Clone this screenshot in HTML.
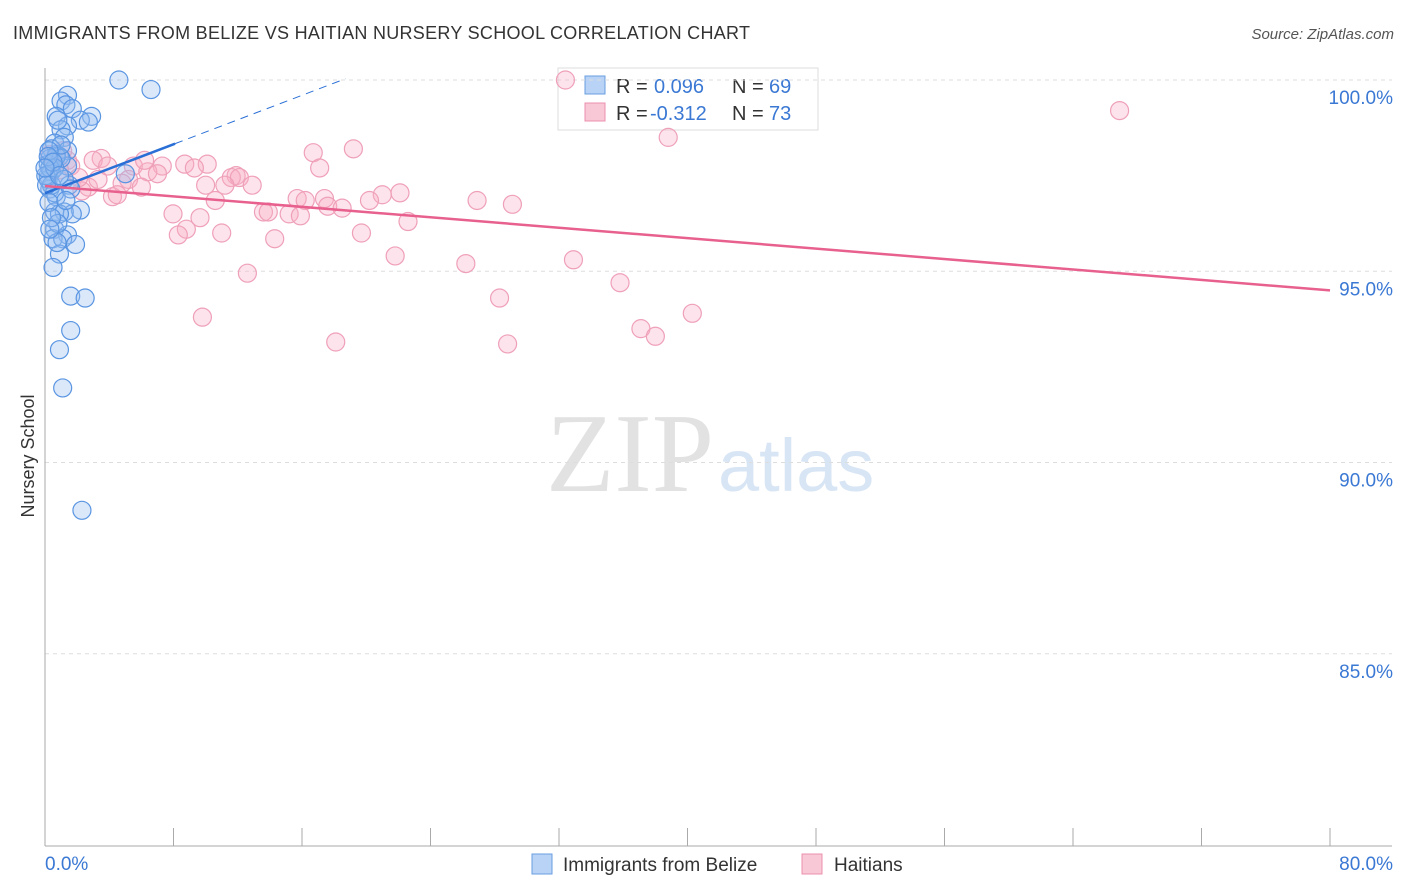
<!DOCTYPE html>
<html><head><meta charset="utf-8"><style>
body{margin:0;background:#fff;font-family:"Liberation Sans",sans-serif;}
svg{display:block}
</style></head><body>
<svg id="c" width="1406" height="892" xmlns="http://www.w3.org/2000/svg">
<text x="13" y="39" font-size="18" fill="#333" textLength="737">IMMIGRANTS FROM BELIZE VS HAITIAN NURSERY SCHOOL CORRELATION CHART</text>
<text x="1394" y="39" font-size="15" fill="#555" text-anchor="end" font-style="italic">Source: ZipAtlas.com</text>
<text x="714" y="491" font-size="112" fill="#e2e2e2" text-anchor="end" font-family="Liberation Serif">ZIP</text>
<text x="718" y="491" font-size="74" fill="#d8e5f5">atlas</text>
<text transform="translate(34,456) rotate(-90)" font-size="18" fill="#333" text-anchor="middle">Nursery School</text>
<g>
<rect x="558" y="68" width="260" height="62" fill="#fff" stroke="#ddd"/>
<rect x="585" y="76" width="20" height="18" fill="#b8d3f5" stroke="#6a9ee0"/>
<rect x="585" y="103" width="20" height="18" fill="#f9c8d7" stroke="#ec8fac"/>
<text x="616" y="93" font-size="20" fill="#333">R =</text>
<text x="654" y="93" font-size="20" fill="#3a78d4">0.096</text>
<text x="732" y="93" font-size="20" fill="#333">N =</text>
<text x="769" y="93" font-size="20" fill="#3a78d4">69</text>
<text x="616" y="120" font-size="20" fill="#333">R =</text>
<text x="650" y="120" font-size="20" fill="#3a78d4">-0.312</text>
<text x="732" y="120" font-size="20" fill="#333">N =</text>
<text x="769" y="120" font-size="20" fill="#3a78d4">73</text>
</g>
<g id="grid"></g><g id="pts"></g><g id="lines"></g>
<g>
<rect x="532" y="854" width="20" height="20" fill="#b8d3f5" stroke="#6a9ee0"/>
<text x="563" y="871" font-size="19" fill="#333">Immigrants from Belize</text>
<rect x="802" y="854" width="20" height="20" fill="#f9c8d7" stroke="#ec8fac"/>
<text x="834" y="871" font-size="19" fill="#333">Haitians</text>
</g>
</svg>
<script>
const NS="http://www.w3.org/2000/svg";
const yTicks=[100,95,90,85];
const yTickLabels=["100.0%","95.0%","90.0%","85.0%"];
const xTicks=[0,8,16,24,32,40,48,56,64,72,80];
const belizeX=[4.6,6.6,1.4,1.0,1.3,1.7,0.7,2.9,2.2,2.7,1.4,1.0,1.2,0.6,0.4,1.4,0.7,0.9,0.3,0.2,1.4,0.4,0.2,5.0,1.5,0.3,0.7,2.2,0.6,1.2,1.7,0.6,1.4,0.5,1.1,1.9,0.9,0.5,1.6,2.5,1.6,0.9,1.1,2.3,0.2,0.4,0.7,1.0,0.3,0.6,0.9,0.8,0.05,0.1,1.0,0.8,0.25,0.6,1.2,1.6,0.25,0.4,0.75,0.2,0.5,0.9,1.3,0.3,0.0];
const belizeY=[100.0,99.75,99.6,99.45,99.35,99.25,99.05,99.05,98.95,98.9,98.8,98.7,98.5,98.35,98.2,98.15,98.05,98.0,97.95,97.8,97.75,97.6,97.5,97.55,97.25,97.15,96.95,96.6,96.55,96.55,96.5,96.1,95.95,95.85,95.85,95.7,95.45,95.1,94.35,94.3,93.45,92.95,91.95,88.75,97.4,97.25,98.0,97.95,97.7,97.05,96.5,96.25,97.5,97.25,98.3,98.95,98.15,97.7,97.4,97.15,96.8,96.4,95.75,98.0,97.85,97.5,96.85,96.1,97.7];
const haitiX=[32.4,66.9,38.8,19.2,16.7,3.5,1.4,3.0,5.5,7.3,8.7,10.1,9.3,17.1,6.4,7.0,11.9,11.6,12.1,11.2,12.9,5.2,4.8,6.0,2.7,2.3,21.0,22.1,15.7,16.2,17.4,10.6,20.2,26.9,29.1,17.6,18.5,7.97,9.65,13.6,13.9,15.2,15.9,22.6,8.8,11.0,8.3,19.7,14.3,12.6,21.8,26.2,32.9,35.8,28.3,9.8,37.1,40.3,38.0,18.1,28.8,1.1,0.6,1.6,4.2,4.5,2.1,3.9,3.3,0.9,6.2,10.0,0.3];
const haitiY=[100.0,99.2,98.5,98.2,98.1,97.95,97.9,97.9,97.75,97.75,97.8,97.8,97.7,97.7,97.6,97.55,97.5,97.45,97.45,97.25,97.25,97.4,97.3,97.2,97.2,97.1,97.0,97.05,96.9,96.85,96.9,96.85,96.85,96.85,96.75,96.7,96.65,96.5,96.4,96.55,96.55,96.5,96.45,96.3,96.1,96.0,95.95,96.0,95.85,94.95,95.4,95.2,95.3,94.7,94.3,93.8,93.5,93.9,93.3,93.15,93.1,98.15,97.9,97.75,96.95,97.0,97.45,97.75,97.4,97.65,97.9,97.25,98.05];
const belizeFit=[97.04,0.16];
const haitiFit=[97.23,94.5];
const X=v=>45+v/80*1285;
const Y=v=>80+(100-v)*38.25;
function mk(t,a,p){const e=document.createElementNS(NS,t);for(const k in a)e.setAttribute(k,a[k]);p.appendChild(e);return e;}
const grid=document.getElementById('grid');
yTicks.forEach((v,i)=>{
  const l=mk('line',{x1:45,x2:1392,y1:Y(v),y2:Y(v),stroke:'#ddd','stroke-dasharray':'4,4'},grid);
  
  
  const t=mk('text',{x:1393,y:Y(v)+24,'font-size':19,fill:'#3a78d4','text-anchor':'end'},grid);
  t.textContent=yTickLabels[i];
  
  
});
const ax=mk('line',{x1:45,x2:45,y1:68,y2:846,stroke:'#aaa'},grid);


const bx=mk('line',{x1:45,x2:1392,y1:846,y2:846,stroke:'#aaa'},grid);


xTicks.forEach(v=>{
  const l=mk('line',{x1:X(v),x2:X(v),y1:828,y2:846,stroke:'#aaa'},grid);
  
  
});
const xl=mk('text',{x:45,y:870,'font-size':19,fill:'#3a78d4'},grid);xl.textContent='0.0%';


const xr=mk('text',{x:1393,y:870,'font-size':19,fill:'#3a78d4','text-anchor':'end'},grid);xr.textContent='80.0%';


const pts=document.getElementById('pts');
haitiX.forEach((x,i)=>{
  const c=mk('circle',{cx:X(x),cy:Y(haitiY[i]),r:9,fill:'rgba(248,175,198,0.35)',stroke:'#efa0b9','stroke-width':1.2},pts);
  
  
});
belizeX.forEach((x,i)=>{
  const c=mk('circle',{cx:X(x),cy:Y(belizeY[i]),r:9,fill:'rgba(150,190,240,0.35)',stroke:'#5a95e2','stroke-width':1.2},pts);
  
  
});
const lines=document.getElementById('lines');
const bf=x=>belizeFit[0]+belizeFit[1]*x;
const b1=mk('line',{x1:X(0),y1:Y(bf(0)),x2:X(8.1),y2:Y(bf(8.1)),stroke:'#2a6fd6','stroke-width':2.5},lines);


const b2=mk('line',{x1:X(8.1),y1:Y(bf(8.1)),x2:X(18.7),y2:Y(bf(18.7)),stroke:'#2a6fd6','stroke-width':1,'stroke-dasharray':'8,6'},lines);


const h=mk('line',{x1:X(0),y1:Y(haitiFit[0]),x2:X(80),y2:Y(haitiFit[1]),stroke:'#e8608d','stroke-width':2.5},lines);


</script>
</body></html>
